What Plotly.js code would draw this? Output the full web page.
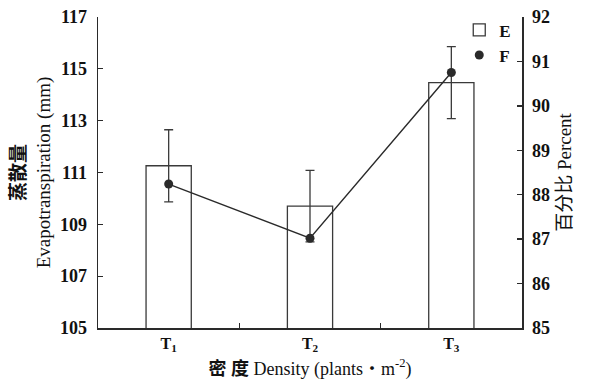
<!DOCTYPE html>
<html>
<head>
<meta charset="utf-8">
<script src="https://cdn.plot.ly/plotly-3.0.1.min.js"></script>
<style>html,body{margin:0;padding:0;background:#fff;}#chart{width:590px;height:386px;}</style>
</head>
<body>
<div id="chart"></div>
<script>
const categories = ['T1', 'T2', 'T3'];
const tickLabels = ['<b>T<sub>1</sub></b>', '<b>T<sub>2</sub></b>', '<b>T<sub>3</sub></b>'];
const evapotranspiration = [111.26, 109.70, 114.47];
const evapotranspirationErr = [1.39, 1.38, 1.39];
const percent = [88.24, 87.02, 90.75];

const serif = 'Liberation Serif, Times New Roman, Noto Sans CJK SC, serif';
const ink = '#2a2a2a';

const traces = [
  {
    type: 'bar', name: '<b>E</b>', x: categories, y: evapotranspiration,
    width: 0.32,
    marker: {color: '#ffffff', line: {color: '#3a3a3a', width: 1.3}},
    error_y: {type: 'data', array: evapotranspirationErr, visible: true, color: '#3a3a3a', thickness: 1.3, width: 4.5},
    yaxis: 'y'
  },
  {
    type: 'scatter', mode: 'lines', name: 'F line', showlegend: false, x: categories, y: percent,
    line: {color: ink, width: 1.4},
    yaxis: 'y2'
  },
  {
    type: 'scatter', mode: 'markers', name: '<b>F</b>', x: categories, y: percent,
    marker: {symbol: 'circle', size: 9, color: ink},
    yaxis: 'y2'
  }
];

const layout = {
  width: 590, height: 386,
  margin: {l: 98, r: 68, t: 17, b: 58},
  paper_bgcolor: '#ffffff', plot_bgcolor: '#ffffff',
  font: {family: serif, color: '#111', size: 16},
  showlegend: true,
  legend: {x: 0.852, y: 1.015, xanchor: 'left', yanchor: 'top', bgcolor: 'rgba(0,0,0,0)',
           font: {family: serif, size: 17, color: '#111'}, tracegroupgap: 0, itemwidth: 30},
  bargap: 0,
  xaxis: {
    type: 'category', range: [-0.5, 2.5],
    tickvals: categories, ticktext: tickLabels,
    tickson: 'boundaries', ticks: 'inside', ticklen: 5, tickcolor: ink, tickwidth: 1.3,
    showline: true, linecolor: ink, linewidth: 1.5, showgrid: false, zeroline: false,
    tickfont: {family: serif, size: 16, color: '#111'},
    title: {text: '<b>密 度</b> Density (plants・m<sup>-2</sup>)', font: {family: serif, size: 18, color: '#111'}, standoff: 9}
  },
  yaxis: {
    range: [105, 117], dtick: 2, tick0: 105,
    ticks: 'inside', ticklen: 5, tickcolor: ink, tickwidth: 1.3,
    showline: true, linecolor: ink, linewidth: 1.5, showgrid: false, zeroline: false,
    ticklabelstandoff: 6,
    tickfont: {family: serif, size: 18, color: '#111', weight: 'bold'},
    title: {text: '<b>蒸散量</b><br>Evapotranspiration (mm)', font: {family: serif, size: 19, color: '#111'}, standoff: 4}
  },
  yaxis2: {
    range: [85, 92], dtick: 1, tick0: 85, overlaying: 'y', side: 'right', anchor: 'x',
    ticks: 'inside', ticklen: 5, tickcolor: ink, tickwidth: 1.3,
    showline: true, linecolor: ink, linewidth: 1.5, showgrid: false, zeroline: false,
    ticklabelstandoff: 5,
    tickfont: {family: serif, size: 18, color: '#111', weight: 'bold'},
    title: {text: '百分比 Percent', font: {family: serif, size: 19, color: '#111'}, standoff: 8}
  }
};

Plotly.newPlot('chart', traces, layout, {displayModeBar: false, staticPlot: true});
</script>
</body>
</html>
